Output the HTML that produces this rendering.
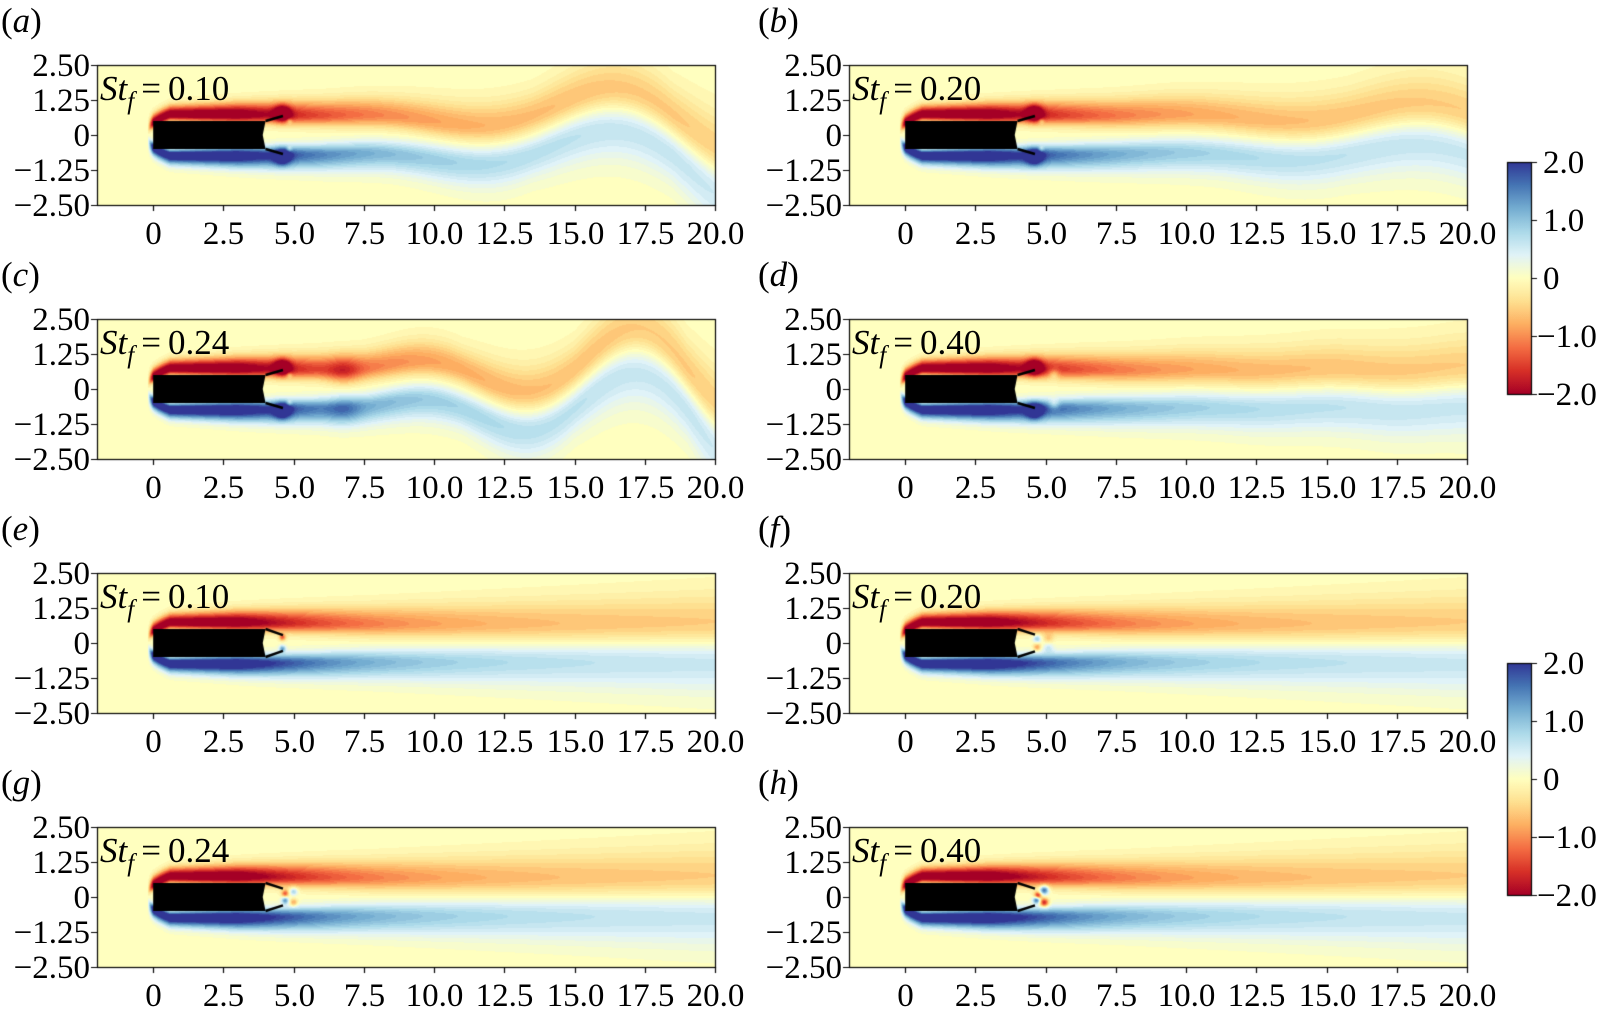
<!DOCTYPE html>
<html><head><meta charset="utf-8">
<style>
html,body{margin:0;padding:0;background:#fff;}
#root{position:relative;width:1599px;height:1017px;overflow:hidden;font-family:"Liberation Serif","Times New Roman",serif;color:#000;}
canvas{position:absolute;left:0;top:0;}
.t{position:absolute;font-size:33px;line-height:1;white-space:nowrap;font-family:"Liberation Serif",serif;}
.pl{position:absolute;font-size:35px;line-height:1;white-space:nowrap;font-family:"Liberation Serif",serif;}
</style></head>
<body>
<div id="root">
<canvas id="cv" width="1599" height="1017"></canvas>
</div>
<script>
// ---- data ----
const panelLetters = ['a','b','c','d','e','f','g','h'];
const stLabels = ['0.10','0.20','0.24','0.40','0.10','0.20','0.24','0.40'];
const waveAmp = [1.5, 0.5, 1.8, 0.08, 0, 0, 0, 0];
const waveLen = [10, 9, 8, 5, 10, 10, 10, 10];
const wavePeak = [16, 18, 17, 10, 10, 10, 10, 10];
const waveExp = [1.5, 1.5, 1.2, 1.2, 1, 1, 1, 1];
const flapTipY = [0.68, 0.68, 0.68, 0.68, 0.28, 0.3, 0.3, 0.3];
const blobsA = [[4.6,0.78,-1.6,0.2],[4.6,-0.78,1.6,0.2],[4.85,0.5,0.6,0.07],[4.85,-0.5,-0.6,0.07]];
const blobsB = [[4.6,0.78,-1.6,0.2],[4.6,-0.78,1.6,0.2],[4.85,0.5,0.6,0.07],[4.85,-0.5,-0.6,0.07]];
const blobsC = [[4.6,0.78,-1.6,0.2],[4.6,-0.78,1.6,0.2],[4.85,0.5,0.6,0.07],[4.85,-0.5,-0.6,0.07],[6.8,0.65,-0.5,0.4],[6.8,-0.65,0.4,0.4]];
const blobsD = [[4.6,0.78,-1.6,0.2],[4.6,-0.78,1.6,0.2],[5.3,0.55,0.6,0.13],[5.3,-0.55,-0.6,0.13]];
const blobsE = [[4.6,0.2,-1.2,0.08],[4.6,-0.2,1.2,0.08]];
const blobsF = [[4.7,0.15,0.9,0.1],[4.7,-0.15,-0.9,0.1],[5.1,0.15,-0.5,0.13],[5.1,-0.15,0.5,0.13]];
const blobsG = [[4.7,0.12,-1.3,0.09],[4.7,-0.12,1.3,0.09],[5.0,0.2,0.9,0.1],[5.0,-0.2,-0.9,0.1]];
const blobsH = [[4.72,0.05,-1.8,0.09],[4.68,-0.1,1.8,0.09],[4.95,0.25,1.8,0.11],[4.95,-0.2,-1.8,0.11]];
const panelBlobs = [blobsA,blobsB,blobsC,blobsD,blobsE,blobsF,blobsG,blobsH];
const xTicks = [0,2.5,5,7.5,10,12.5,15,17.5,20];
const xTickLabels = ['0','2.5','5.0','7.5','10.0','12.5','15.0','17.5','20.0'];
const yTicks = [2.5,1.25,0,-1.25,-2.5];
const yTickLabels = ['2.50','1.25','0','\u22121.25','\u22122.50'];
const cbTicks = [2,1,0,-1,-2];
const cbTickLabels = ['2.0','1.0','0','\u22121.0','\u22122.0'];

// ---- layout ----
const rowTop = [65,319,573,827], PH = 140;
const colLeft = [97,849], PW = 618;
const XMIN=-2, XMAX=20, YMIN=-2.5, YMAX=2.5;
const cbX = 1507, cbW = 24, cbTops = [162,663], cbH = 232;

const stops = [[165,0,38],[215,48,39],[244,109,67],[253,174,97],[254,224,144],[255,255,191],[224,243,248],[171,217,233],[116,173,209],[69,117,180],[49,54,149]];
function cmap(v){
  let t=(v+2)/4; t=Math.max(0,Math.min(1,t));
  t=Math.round(t*40)/40;
  const f=t*10, i=Math.min(9,Math.floor(f)), r=f-i;
  const a=stops[i], b=stops[i+1];
  return [a[0]+(b[0]-a[0])*r, a[1]+(b[1]-a[1])*r, a[2]+(b[2]-a[2])*r];
}
function field(x,y,p){
  const ramp=Math.pow(Math.max(0,Math.min(1,(x-6)/14)),waveExp[p]);
  const d=waveAmp[p]*ramp*Math.cos(2*Math.PI*(x-wavePeak[p])/waveLen[p]);
  let base;
  if(x<0.6) base=0.12+0.6*Math.sqrt(Math.max(0,(x+0.2)/0.8));
  else base=0.72-0.04*Math.min(1,Math.max(0,(x-4)/4));
  let S;
  if(x<-0.2) S=0;
  else if(x<0) S=2.4*(x+0.2)/0.2;
  else if(x<3) S=2.4;
  else S=0.55+1.85*Math.exp(-(x-3)/4);
  const xs=Math.max(x,0);
  const so=0.2+0.028*xs+0.12*Math.abs(d), si=0.12+0.022*xs+0.1*Math.abs(d);
  let v=0;
  let dy=y-(base+d); let s=dy>0?so:si;
  v-=S*Math.exp(-dy*dy/(2*s*s));
  dy=y-(-base+d); s=dy<0?so:si;
  v+=1.05*S*Math.exp(-dy*dy/(2*s*s));
  const bl=panelBlobs[p];
  for(const b of bl){const dx=x-b[0],dd=y-b[1];v+=b[2]*Math.exp(-(dx*dx+dd*dd)/(2*b[3]*b[3]));}
  return v;
}
const cv=document.getElementById('cv'), ctx=cv.getContext('2d');
const root=document.getElementById('root');
function addText(cls,txt,l,t,name,align){
  const el=document.createElement('div');
  el.className=cls; el.innerHTML=txt;
  
  
  el.style.top=t+'px';
  if(align==='r'){el.style.right=(1599-l)+'px';}
  else if(align==='c'){el.style.left=l+'px';el.style.transform='translateX(-50%)';}
  else el.style.left=l+'px';
  root.appendChild(el);
}
for(let p=0;p<8;p++){
  const L=colLeft[p%2], T=rowTop[Math.floor(p/2)];
  const sx=x=>L+(x-XMIN)/(XMAX-XMIN)*PW;
  const sy=y=>T+(YMAX-y)/(YMAX-YMIN)*PH;
  const img=ctx.createImageData(PW,PH);
  for(let j=0;j<PH;j++){const y=YMAX-(j+0.5)/PH*(YMAX-YMIN);
    for(let i=0;i<PW;i++){const x=XMIN+(i+0.5)/PW*(XMAX-XMIN);
      const c=cmap(field(x,y,p));const k=(j*PW+i)*4;
      img.data[k]=c[0];img.data[k+1]=c[1];img.data[k+2]=c[2];img.data[k+3]=255;}}
  ctx.putImageData(img,L,T);
  ctx.fillStyle='#000';
  ctx.beginPath();ctx.moveTo(sx(0),sy(0.5));ctx.lineTo(sx(4),sy(0.5));ctx.lineTo(sx(3.9),sy(0));ctx.lineTo(sx(4),sy(-0.5));ctx.lineTo(sx(0),sy(-0.5));ctx.closePath();ctx.fill();
  ctx.strokeStyle='#000';ctx.lineWidth=2.5;
  ctx.beginPath();ctx.moveTo(sx(4),sy(0.5));ctx.lineTo(sx(4.62),sy(flapTipY[p]));
  ctx.moveTo(sx(4),sy(-0.5));ctx.lineTo(sx(4.62),sy(-flapTipY[p]));ctx.stroke();
  ctx.lineWidth=1.2;ctx.strokeRect(L+0.5,T+0.5,PW,PH);
  ctx.beginPath();
  xTicks.forEach((v,i)=>{const X=Math.round(sx(v))+0.5;ctx.moveTo(X,T+PH);ctx.lineTo(X,T+PH+6);
    addText('t',xTickLabels[i],X,T+PH+13,'x-tick-label','c');});
  yTicks.forEach((v,i)=>{const Y=Math.round(sy(v))+0.5;ctx.moveTo(L,Y);ctx.lineTo(L-6,Y);
    addText('t',yTickLabels[i],L-7,Y-16,'y-tick-label','r');});
  ctx.stroke();
  addText('pl','(<i>'+panelLetters[p]+'</i>)',(p%2?758:1),T-62,'panel-label-'+panelLetters[p]);
  addText('pl','<i>St</i><sub style="font-size:25px;vertical-align:-9px"><i>f</i></sub>\u2009=\u20090.'+stLabels[p].slice(2),L+3,T+6,'strouhal-label','l');
}
cbTops.forEach((T,ci)=>{
  const g=ctx.createLinearGradient(0,T,0,T+cbH);
  for(let k=0;k<=40;k++){const c=cmap(2-4*k/40);g.addColorStop(k/40,'rgb('+c.map(Math.round).join(',')+')');}
  ctx.fillStyle=g;ctx.fillRect(cbX,T,cbW,cbH);
  ctx.strokeStyle='#000';ctx.lineWidth=1.2;ctx.strokeRect(cbX+0.5,T+0.5,cbW,cbH);
  ctx.beginPath();
  cbTicks.forEach((v,i)=>{const Y=Math.round(T+(2-v)/4*cbH)+0.5;ctx.moveTo(cbX+cbW,Y);ctx.lineTo(cbX+cbW+6,Y);
    addText('t',cbTickLabels[i],(v<0?cbX+cbW+6:cbX+cbW+12),Y-16,'colorbar-tick-label','l');});
  ctx.stroke();
});
</script>
</body></html>
